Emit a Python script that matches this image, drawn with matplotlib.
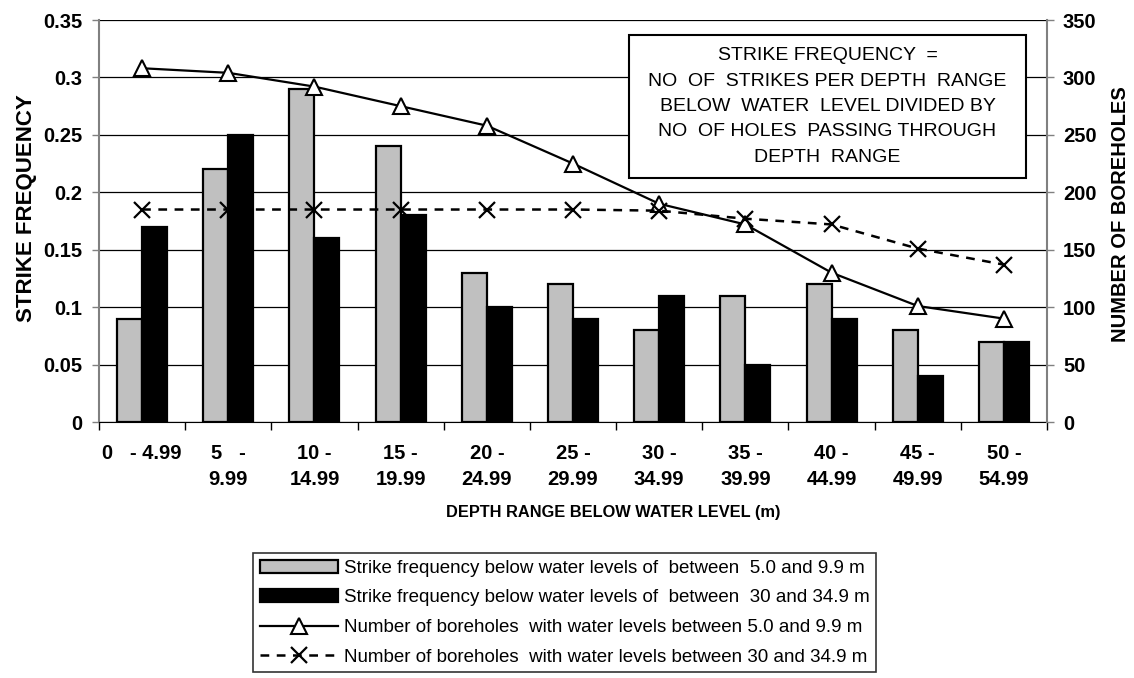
import numpy as np
import matplotlib
matplotlib.use('Agg')
import matplotlib.pyplot as plt
from matplotlib.patches import Rectangle

plt.rcParams['font.family'] = ['Liberation Sans', 'DejaVu Sans']

# depth ranges below water level
depth_labels = ['0   - 4.99', '5   -\n9.99', '10 -\n14.99', '15 -\n19.99', '20 -\n24.99',
                '25 -\n29.99', '30 -\n34.99', '35 -\n39.99', '40 -\n44.99', '45 -\n49.99',
                '50 -\n54.99']

# strike frequency (left axis)
freq_5_10 = [0.09, 0.22, 0.29, 0.24, 0.13, 0.12, 0.08, 0.11, 0.12, 0.08, 0.07]
freq_30_35 = [0.17, 0.25, 0.16, 0.18, 0.10, 0.09, 0.11, 0.05, 0.09, 0.04, 0.07]

# number of boreholes (right axis)
holes_5_10 = [308, 304, 292, 275, 258, 225, 190, 172, 130, 101, 90]
holes_30_35 = [185, 185, 185, 185, 185, 185, 184, 177, 172, 151, 137]

leg_labels = ['Strike frequency below water levels of  between  5.0 and 9.9 m',
              'Strike frequency below water levels of  between  30 and 34.9 m',
              'Number of boreholes  with water levels between 5.0 and 9.9 m',
              'Number of boreholes  with water levels between 30 and 34.9 m']

box_lines = ['STRIKE FREQUENCY  =', 'NO  OF  STRIKES PER DEPTH  RANGE',
             'BELOW  WATER  LEVEL DIVIDED BY', 'NO  OF HOLES  PASSING THROUGH',
             'DEPTH  RANGE']

W, H = 1134, 678
fig = plt.figure(figsize=(W / 100, H / 100), dpi=100)
ax = fig.add_axes([99 / W, 256 / H, 948 / W, 402 / H])

x = np.arange(len(depth_labels))
w = 0.29
b1 = ax.bar(x - w / 2, freq_5_10, w, color='#c0c0c0', edgecolor='black', linewidth=1.6, zorder=3)
b2 = ax.bar(x + w / 2, freq_30_35, w, color='black', edgecolor='black', linewidth=1.6, zorder=3)

ax.set_xlim(-0.5, 10.5)
ax.set_ylim(0, 0.35)
yt = np.arange(0, 0.351, 0.05)
ax.set_yticks(yt, ['0', '0.05', '0.1', '0.15', '0.2', '0.25', '0.3', '0.35'])
ax.set_xticks(x, depth_labels)
ax.set_xticks(np.arange(-0.5, 11, 1), minor=True)
ax.tick_params(axis='x', which='major', length=0, pad=16)
ax.tick_params(axis='x', which='minor', length=6, width=1, direction='out')
ax.tick_params(axis='y', length=5, width=1, direction='out', pad=7, color='#808080')
for t in ax.get_xticklabels():
    t.set_fontweight('bold')
    t.set_fontsize(14.5)
    t.set_linespacing(1.45)
for t in ax.get_yticklabels():
    t.set_fontweight('bold')
    t.set_fontsize(14.5)
ax.yaxis.grid(True, color='black', linewidth=0.9)
ax.set_axisbelow(True)
ax.spines['top'].set_visible(False)
ax.spines['right'].set_visible(False)
ax.spines['left'].set_color('#808080')
ax.spines['left'].set_linewidth(1.5)
ax.spines['bottom'].set_color('black')

ax2 = ax.twinx()
l1, = ax2.plot(x, holes_5_10, color='black', lw=1.6, marker='^', ms=11.5,
               mfc='white', mec='black', mew=1.5, zorder=5)
l2, = ax2.plot(x, holes_30_35, color='black', lw=1.8, ls=(0, (3.5, 3)), marker='x',
               ms=12, mew=1.6, zorder=5)
ax2.set_ylim(0, 350)
ax2.set_yticks(np.arange(0, 351, 50))
ax2.tick_params(axis='y', length=5, width=1, direction='out', pad=6.5, color='#808080')
for t in ax2.get_yticklabels():
    t.set_fontweight('bold')
    t.set_fontsize(14.5)
for s in ['top', 'left', 'bottom']:
    ax2.spines[s].set_visible(False)
ax2.spines['right'].set_color('#808080')
ax2.spines['right'].set_linewidth(1.5)

# definition box
ax2.add_patch(Rectangle((0.559, 0.607), 0.419, 0.356, transform=ax2.transAxes,
                        facecolor='white', edgecolor='black', linewidth=1.5, zorder=10))
for i, line in enumerate(box_lines):
    fig.text(827.5 / W, 1 - (56 + 25.25 * i) / H, line, ha='center', va='center', fontsize=14)

# axis titles
fig.text(27 / W, 1 - 208 / H, 'STRIKE FREQUENCY', rotation=90, ha='center', va='center',
         fontweight='bold', fontsize=16)
fig.text(1120 / W, 1 - 214 / H, 'NUMBER OF BOREHOLES', rotation=90, ha='center', va='center',
         fontweight='bold', fontsize=14.5)
fig.text(613 / W, 1 - 512 / H, 'DEPTH RANGE BELOW WATER LEVEL (m)', ha='center', va='center',
         fontweight='bold', fontsize=11.8)

leg = fig.legend([b1, b2, l1, l2], leg_labels, loc='upper left',
                 bbox_to_anchor=(253 / W, 1 - 553 / H), frameon=True, fancybox=False,
                 edgecolor='black', fontsize=13.5, handlelength=4.2, handletextpad=0.3,
                 labelspacing=0.67, borderpad=0.35, borderaxespad=0, numpoints=1)
leg.get_frame().set_linewidth(1.2)

fig.savefig('out.png', dpi=100)
